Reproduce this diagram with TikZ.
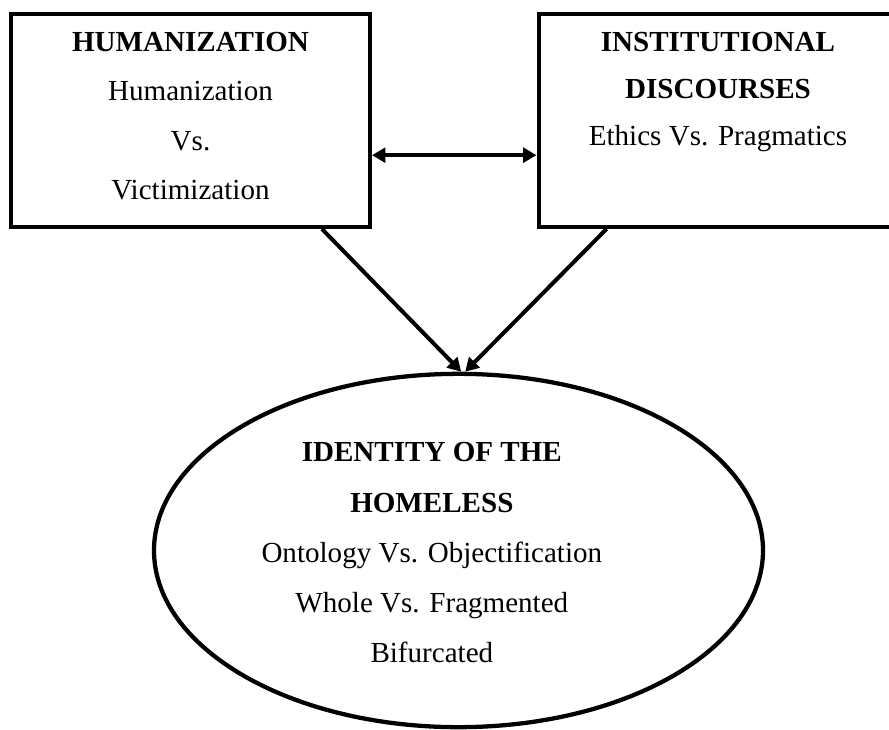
\documentclass[tikz,border=0pt]{standalone}
\usepackage{fontspec}
\setmainfont{Liberation Serif}
\usepackage{tikz}
\usetikzlibrary{arrows.meta,shapes.geometric}

\begin{document}
\begin{tikzpicture}[x=0.75pt,y=-0.75pt,
  box/.style={draw,line width=3pt,minimum width=269.25pt,minimum height=159.75pt,inner sep=0pt},
  txt/.style={align=center,inner sep=0pt,anchor=north,font=\fontsize{21.8}{37.1}\selectfont},
  con/.style={line width=3pt,-{Triangle[length=10pt,width=11pt]}}]
\useasboundingbox (0,0) rectangle (889,729);
\clip (0,0) rectangle (889,729);
\node[box] (hum) at (190.5,120.5) {};
\node[box] (inst) at (718,120.5) {};
\node[draw,ellipse,line width=3.2pt,minimum width=456.75pt,minimum height=265pt] (id) at (458.5,550.5) {};
\node[txt] (humtxt) at ([yshift=-15pt]hum.north) {\textbf{HUMANIZATION}\\Humanization\\Vs.\\Victimization};
\node[txt,font=\fontsize{21.8}{35.3}\selectfont] (insttxt) at ([yshift=-15pt]inst.north) {\textbf{INSTITUTIONAL}\\\textbf{DISCOURSES}\\Ethics Vs. Pragmatics};
\node[txt,font=\fontsize{21.8}{37.7}\selectfont] (idtxt) at ([xshift=-20pt,yshift=-53pt]id.north) {\textbf{IDENTITY OF THE}\\\textbf{HOMELESS}\\Ontology Vs. Objectification\\Whole Vs. Fragmented\\Bifurcated};
% links
\draw[con,{Triangle[length=10pt,width=11pt]}-{Triangle[length=10pt,width=11pt]}] ([yshift=-26pt]hum.east) -- ([yshift=-26pt]inst.west);
\draw[con] ([xshift=-37.5pt]hum.south east) -- ([xshift=2pt]id.north);
\draw[con] ([xshift=52.5pt]inst.south west) -- ([xshift=5pt]id.north);
\end{tikzpicture}
\end{document}
